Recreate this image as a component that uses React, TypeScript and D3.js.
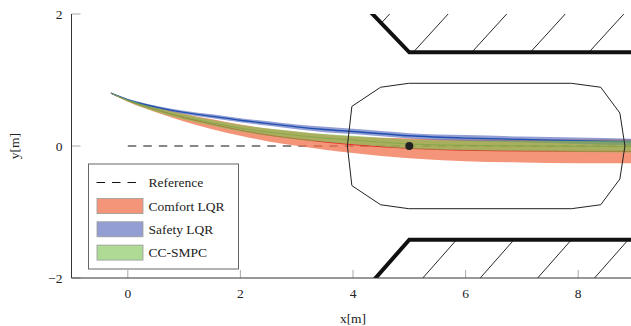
import * as d3 from "d3";
import React from "react";

// sample positions along x for all trajectories
const xs = [-0.3, 0, 0.5, 1, 1.5, 2, 2.5, 3, 3.5, 4, 5, 6, 7, 8, 9];

const comfortMean = [0.8, 0.69, 0.55, 0.43, 0.33, 0.24, 0.165, 0.11, 0.06, 0.02, -0.035, -0.065, -0.075, -0.08, -0.08];
const comfortStd = [0.005, 0.02, 0.04, 0.06, 0.075, 0.085, 0.095, 0.105, 0.115, 0.125, 0.15, 0.165, 0.175, 0.18, 0.18];

const safetyMean = [0.8, 0.7, 0.59, 0.51, 0.45, 0.39, 0.34, 0.29, 0.25, 0.22, 0.155, 0.12, 0.1, 0.08, 0.06];
const safetyStd = [0.005, 0.015, 0.02, 0.025, 0.03, 0.03, 0.035, 0.035, 0.04, 0.04, 0.04, 0.045, 0.045, 0.05, 0.05];

const smpcMean = [0.8, 0.69, 0.55, 0.44, 0.35, 0.27, 0.21, 0.16, 0.12, 0.09, 0.03, 0.01, 0, -0.005, -0.01];
const smpcStd = [0.005, 0.015, 0.03, 0.04, 0.045, 0.05, 0.055, 0.06, 0.06, 0.065, 0.07, 0.075, 0.08, 0.085, 0.09];

// obstacle outline and centre
const obstacleX = [3.9, 3.98, 4.49, 4.99, 7.88, 8.4, 8.74, 8.83, 8.74, 8.4, 7.88, 4.99, 4.49, 3.98];
const obstacleY = [0, 0.6, 0.89, 0.95, 0.95, 0.89, 0.5, 0, -0.5, -0.89, -0.95, -0.95, -0.89, -0.6];
const obstacleCenter = [5, 0];

// road boundaries
const topWallX = [4.29, 5.0, 9.5];
const topWallY = [2.05, 1.42, 1.42];
const bottomWallX = [4.35, 5.0, 9.5];
const bottomWallY = [-2.05, -1.42, -1.42];
const topHatchX = [4.03, 5.07, 6.11, 7.15, 8.19];
const bottomHatchX = [5.24, 6.26, 7.28, 8.29];

const xTicks = [0, 2, 4, 6, 8];
const yTicks = [-2, 0, 2];

const legendItems = [
  { label: "Comfort LQR", fill: "#f0704b", opacity: 0.75 },
  { label: "Safety LQR", fill: "#3a50b0", opacity: 0.55 },
  { label: "CC-SMPC", fill: "#78c14e", opacity: 0.6 },
];

const W = 631;
const H = 326;
const font = "Liberation Serif, Times New Roman, serif";

export default function App() {
  const x = d3.scaleLinear().domain([-1, 9]).range([71.5, 634.5]);
  const y = d3.scaleLinear().domain([-2, 2]).range([278, 14]);

  const band = (mean: number[], std: number[]) =>
    d3.area<number>()
      .x(i => x(xs[i]))
      .y0(i => y(mean[i] - std[i]))
      .y1(i => y(mean[i] + std[i]))
      .curve(d3.curveMonotoneX)(xs.map((_, i) => i)) || "";

  const meanLine = (mean: number[]) =>
    d3.line<number>()
      .x(i => x(xs[i]))
      .y(i => y(mean[i]))
      .curve(d3.curveMonotoneX)(xs.map((_, i) => i)) || "";

  const poly = (px: number[], py: number[]) =>
    d3.line<number>().x(i => x(px[i])).y(i => y(py[i]))(px.map((_, i) => i)) || "";

  const obstaclePath = poly(obstacleX, obstacleY) + "Z";
  const topRegion = poly([4.29, 5.0, 9.5, 9.5], [2.05, 1.42, 1.42, 2.05]) + "Z";
  const bottomRegion = poly([4.35, 5.0, 9.5, 9.5], [-2.05, -1.42, -1.42, -2.05]) + "Z";

  const txt = { fontFamily: font, fontSize: "13.5px", fill: "#222" };

  return (
    <svg width={W} height={H} style={{ position: "absolute", left: 0, top: 0, background: "white" }}>
      <defs>
        <clipPath id="plot">
          <rect x={x(-1)} y={y(2)} width={x(9) - x(-1)} height={y(-2) - y(2)} />
        </clipPath>
        <clipPath id="topHatch"><path d={topRegion} /></clipPath>
        <clipPath id="bottomHatch"><path d={bottomRegion} /></clipPath>
      </defs>

      {/* ticks */}
      {xTicks.map(t => (
        <line key={"xt" + t} x1={x(t)} x2={x(t)} y1={y(-2)} y2={y(-2) - 8} stroke="#aaa" strokeWidth={1} />
      ))}
      {yTicks.map(t => (
        <line key={"yt" + t} x1={x(-1)} x2={x(-1) + 9} y1={y(t)} y2={y(t)} stroke="#aaa" strokeWidth={1} />
      ))}

      <g clipPath="url(#plot)">
        {/* reference */}
        <line x1={x(0)} x2={x(9.5)} y1={y(0)} y2={y(0)} stroke="#111" strokeWidth={1} strokeDasharray="8.5,7" />

        {/* comfort LQR */}
        <path d={band(comfortMean, comfortStd)} fill={legendItems[0].fill} fillOpacity={legendItems[0].opacity} />
        <path d={meanLine(comfortMean)} fill="none" stroke="#e8202a" strokeWidth={1} />

        {/* safety LQR */}
        <path d={band(safetyMean, safetyStd)} fill={legendItems[1].fill} fillOpacity={legendItems[1].opacity} />
        <path d={meanLine(safetyMean)} fill="none" stroke="#1f4fb0" strokeWidth={1.3} />

        {/* CC-SMPC */}
        <path d={band(smpcMean, smpcStd)} fill={legendItems[2].fill} fillOpacity={legendItems[2].opacity} />
        <path d={meanLine(smpcMean)} fill="none" stroke="#7ea648" strokeWidth={0.8} />

        {/* obstacle */}
        <path d={obstaclePath} fill="none" stroke="#222" strokeWidth={1} />
        <circle cx={x(obstacleCenter[0])} cy={y(obstacleCenter[1])} r={4} fill="#222" />

        {/* walls */}
        <g clipPath="url(#topHatch)">
          {topHatchX.map(h => (
            <line key={"th" + h} x1={x(h)} y1={y(1.42)} x2={x(h + 0.62)} y2={y(2)} stroke="#111" strokeWidth={0.9} />
          ))}
        </g>
        <g clipPath="url(#bottomHatch)">
          {bottomHatchX.map(h => (
            <line key={"bh" + h} x1={x(h)} y1={y(-2)} x2={x(h + 0.6)} y2={y(-1.42)} stroke="#111" strokeWidth={0.9} />
          ))}
        </g>
        <path d={poly(topWallX, topWallY)} fill="none" stroke="#111" strokeWidth={4} />
        <path d={poly(bottomWallX, bottomWallY)} fill="none" stroke="#111" strokeWidth={4} />
      </g>

      {/* axis lines */}
      <line x1={x(-1)} x2={x(-1)} y1={y(2)} y2={y(-2)} stroke="#333" strokeWidth={1} />
      <line x1={x(-1)} x2={W} y1={y(-2)} y2={y(-2)} stroke="#333" strokeWidth={1} />

      {/* tick labels */}
      {xTicks.map(t => (
        <text key={"xl" + t} x={x(t)} y={y(-2) + 20} textAnchor="middle" style={txt}>{t}</text>
      ))}
      {yTicks.map(t => (
        <text key={"yl" + t} x={x(-1) - 9} y={y(t) + 4.5} textAnchor="end" style={txt}>
          {t < 0 ? "\u2212" + Math.abs(t) : t}
        </text>
      ))}

      {/* axis titles */}
      <text x={(x(-1) + x(9)) / 2} y={323} textAnchor="middle" style={txt}>x[m]</text>
      <text transform={`translate(19,${y(0)}) rotate(-90)`} textAnchor="middle" style={txt}>y[m]</text>

      {/* legend */}
      <g transform="translate(88.5,164)">
        <rect x={0} y={0} width={150} height={105} fill="white" stroke="#666" strokeWidth={1} />
        <line x1={8} x2={50} y1={18.5} y2={18.5} stroke="#111" strokeWidth={1} strokeDasharray="8.5,7" />
        <text x={60} y={23} style={txt}>Reference</text>
        {legendItems.map((d, i) => (
          <g key={d.label} transform={`translate(0,${34.5 + i * 23.3})`}>
            <rect x={8.5} y={0} width={46} height={15} fill={d.fill} fillOpacity={d.opacity} stroke="#999" strokeWidth={0.8} />
            <text x={60} y={12} style={txt}>{d.label}</text>
          </g>
        ))}
      </g>
    </svg>
  );
}
